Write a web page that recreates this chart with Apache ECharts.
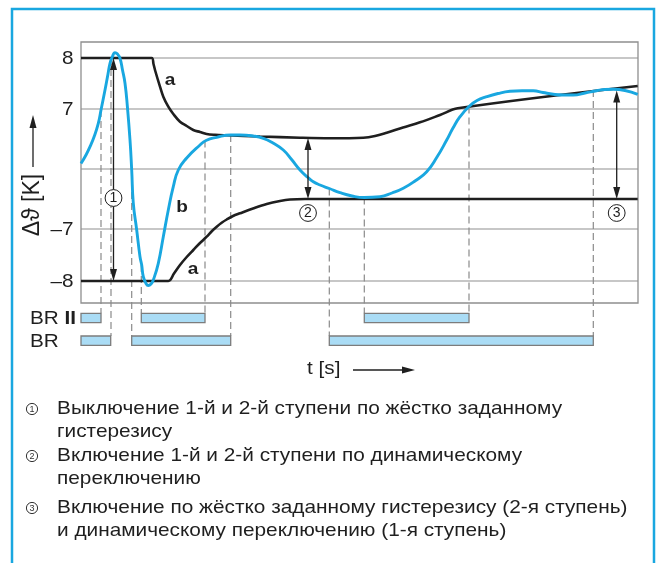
<!DOCTYPE html>
<html>
<head>
<meta charset="utf-8">
<script src="https://cdn.jsdelivr.net/npm/echarts@6/dist/echarts.min.js"></script>
<style>
  html, body { margin: 0; padding: 0; background: #fff; }
  #chart { width: 657px; height: 563px; }
</style>
</head>
<body>
<div id="chart"></div>
<script>
// Schematic units: t runs along the time axis, level is a position on the broken Δϑ scale.

// Curve b – measured temperature difference [t, level]
const curveB = [
  [0, 13.95], [0.5, 14.8], [0.9, 15.63], [1.3, 16.6], [1.73, 17.97], [2.0, 19.3],
  [2.4, 21.3], [2.7, 22.9], [2.9, 23.97], [3.13, 24.6], [3.4, 25.03], [3.65, 24.9],
  [3.9, 24.47], [4.15, 23.3], [4.4, 21.97], [4.65, 19.5], [4.9, 16.3], [5.07, 13.3],
  [5.23, 10.0], [5.57, 7.3], [5.9, 4.63], [6.07, 3.8], [6.23, 2.63], [6.5, 1.95],
  [6.73, 1.75], [7.0, 1.9], [7.23, 2.3], [7.73, 3.97], [8.23, 6.63], [8.73, 9.3],
  [9.23, 11.63], [9.73, 13.3], [10.57, 14.5], [11.9, 15.8], [12.5, 16.25], [13.57, 16.57],
  [14.97, 16.8], [15.9, 16.8], [17.2, 16.7], [18.23, 16.47], [19.2, 16.0], [20.23, 15.3],
  [21.1, 14.3], [21.9, 13.3], [22.7, 12.55], [23.23, 12.13], [23.9, 11.8], [24.83, 11.45],
  [25.9, 11.03], [27.1, 10.7], [28.33, 10.55], [29.9, 10.63], [31.1, 11.0], [32.23, 11.47],
  [33.4, 12.2], [34.57, 13.13], [35.6, 14.6], [36.57, 16.3], [37.2, 17.5], [37.9, 18.63],
  [38.8, 19.65], [39.6, 20.25], [40.57, 20.63], [41.7, 20.95], [42.9, 21.17], [44.1, 21.23],
  [45.23, 21.23], [46.2, 21.05], [47.23, 20.87], [48.2, 20.8], [49.23, 20.8], [50.4, 21.0],
  [51.57, 21.23], [52.4, 21.35], [53.23, 21.37], [54.4, 21.25], [55.67, 20.87]
];

// Curve a – upper switching threshold
const curveAUpper = [
  [0, 24.5], [7.07, 24.5], [7.25, 23.9], [7.4, 23.3], [7.9, 21.63], [8.23, 20.63],
  [8.73, 19.63], [9.23, 18.9], [9.9, 18.13], [10.57, 17.7], [11.23, 17.3], [11.9, 17.1],
  [12.57, 16.9], [13.4, 16.82], [14.57, 16.77], [17.9, 16.65], [21.9, 16.53], [24.9, 16.48],
  [28.23, 16.53], [29.4, 16.7], [30.57, 17.03], [32.2, 17.55], [33.9, 18.07], [35.9, 18.8],
  [37.67, 19.47], [55.67, 21.7]
];

// Curve a – lower switching threshold
const curveALower = [
  [0, 2.2], [8.73, 2.2], [9.3, 2.95], [9.9, 3.8], [10.57, 4.6], [11.23, 5.3],
  [11.9, 6.0], [12.57, 6.63], [13.1, 7.2], [13.57, 7.63], [14.1, 8.05], [14.57, 8.35],
  [15.2, 8.7], [15.9, 8.97], [17.2, 9.45], [18.57, 9.9], [19.9, 10.2], [20.9, 10.35],
  [22.4, 10.4], [55.67, 10.4]
];

// Horizontal reference levels and their tick labels
const levelLines = [24.5, 19.4, 13.4, 7.4, 2.2];
const levelLabels = ['8', '7', '', '–7', '–8'];

// Relay on-periods [start, end]
const brIIPeriods = [[0, 2.0], [6.03, 12.4], [28.33, 38.8]];
const brPeriods = [[0, 2.97], [5.07, 14.97], [24.83, 51.23]];

// Switching instants: [t, level on curve, track index (0 = BR II, 1 = BR)]
const switchPoints = [
  [2.0, 19.3, 0], [3.0, 24.5, 1], [5.07, 13.3, 1], [6.03, 3.8, 0], [12.4, 16.25, 0],
  [14.97, 16.8, 1], [24.83, 11.45, 1], [28.33, 10.55, 0], [38.8, 19.65, 0], [51.23, 21.3, 1]
];

// Hysteresis spans: [t, top level, bottom level]
const hysteresisSpans = [[3.25, 24.5, 2.2], [22.7, 16.5, 10.4], [53.57, 21.25, 10.4]];
const hysteresisNames = ['1', '2', '3'];

const legendLines = [
  'Выключение 1-й и 2-й ступени по жёстко заданному',
  'гистерезису',
  'Включение 1-й и 2-й ступени по динамическому',
  'переключению',
  'Включение по жёстко заданному гистерезису (2-я ступень)',
  'и динамическому переключению (1-я ступень)'
];

// ---- layout ----
const X_MIN = 0, X_MAX = 55.7, Y_MIN = -4.5, Y_MAX = 26.1, FRAME_BOTTOM = 0;
const trackLevel = [-1.5, -3.77];
const BAR_H = 9.4;
const spanLabelLevel = [10.5, 9.0, 9.0];
const FONT = '"Liberation Sans", Arial, sans-serif';
const WIDE = 1.12;          // horizontal stretch of the lettering
const BLUE = '#19a7e0';
const INK = '#1f1f1f';
const GRID_GRAY = '#8f8f8f';

const chart = echarts.init(document.getElementById('chart'), null, { renderer: 'canvas' });

function circledLabel(cx, cy, r, digit, size, color) {
  return [
    { type: 'circle', shape: { cx: cx, cy: cy, r: r }, style: { fill: '#fff', stroke: color, lineWidth: 1 } },
    { type: 'text', x: cx, y: cy + 0.5, style: { text: digit, align: 'center', verticalAlign: 'middle',
        fontSize: size, fontFamily: FONT, fill: color } }
  ];
}

function label(x, y, text, opts) {
  opts = opts || {};
  return { type: 'text', x: x, y: y, scaleX: opts.scaleX || WIDE, rotation: opts.rotation || 0,
    style: { text: text, fontSize: opts.size || 18.5, fontWeight: opts.weight || 'normal', fontFamily: FONT,
      fill: INK, align: opts.align || 'left', verticalAlign: 'middle', rich: opts.rich } };
}

const legendGraphics = [];
const legendRows = [409, 432, 456, 479, 508, 531];
legendLines.forEach(function (line, i) {
  legendGraphics.push(label(57, legendRows[i], line, { size: 18.5, scaleX: 1.125 }));
});
[0, 2, 4].forEach(function (row, k) {
  circledLabel(32, legendRows[row], 5.6, hysteresisNames[k], 9, '#333').forEach(function (el) {
    legendGraphics.push(el);
  });
});

const option = {
  animation: false,
  backgroundColor: '#fff',
  grid: { left: 81, top: 42, width: 557, height: 306, show: false },
  xAxis: { type: 'value', min: X_MIN, max: X_MAX, show: false },
  yAxis: { type: 'value', min: Y_MIN, max: Y_MAX, show: false },
  graphic: [
    { type: 'rect', shape: { x: 12, y: 9, width: 642, height: 620 },
      style: { fill: 'none', stroke: BLUE, lineWidth: 2.5 }, z: 100 },
    // vertical axis title with arrow
    label(33, 205, 'Δϑ [K]', { size: 23, scaleX: 1, rotation: Math.PI / 2, align: 'center' }),
    { type: 'line', shape: { x1: 33, y1: 167, x2: 33, y2: 126 }, style: { stroke: INK, lineWidth: 1.3 } },
    { type: 'polygon', shape: { points: [[33, 115], [29.5, 128], [36.5, 128]] }, style: { fill: INK } },
    // time axis title with arrow
    label(307, 369, 't [s]', { size: 18.5 }),
    { type: 'line', shape: { x1: 353, y1: 370, x2: 404, y2: 370 }, style: { stroke: INK, lineWidth: 1.3 } },
    { type: 'polygon', shape: { points: [[415, 370], [402, 366.5], [402, 373.5]] }, style: { fill: INK } },
    // relay track names
    label(30, 319, 'BR {b|II}', { rich: { b: { fontSize: 18.5, fontWeight: 'bold', fontFamily: FONT, fill: INK } } }),
    label(30, 342, 'BR'),
    // curve names
    label(170, 80, 'a', { size: 17, weight: 'bold', align: 'center' }),
    label(182, 207, 'b', { size: 17, weight: 'bold', align: 'center' }),
    label(193, 269, 'a', { size: 17, weight: 'bold', align: 'center' })
  ].concat(legendGraphics),
  series: [
    // frame and reference levels
    {
      type: 'custom', z: 1, silent: true,
      data: levelLines.map(function (v, i) { return [v, i]; }),
      encode: { x: -1, y: 0 },
      renderItem: function (params, api) {
        const v = api.value(0), i = api.value(1);
        const p0 = api.coord([X_MIN, v]), p1 = api.coord([X_MAX, v]);
        const children = [{ type: 'line', shape: { x1: p0[0], y1: p0[1], x2: p1[0], y2: p1[1] },
          style: { stroke: GRID_GRAY, lineWidth: 1.2 } }];
        if (levelLabels[i]) {
          children.push({ type: 'text', x: p0[0] - 7.5, y: p0[1] + 1, scaleX: WIDE,
            style: { text: levelLabels[i], align: 'right', verticalAlign: 'middle',
              fontSize: 18.5, fontFamily: FONT, fill: INK } });
        }
        if (i === 0) {
          const a = api.coord([X_MIN, Y_MAX]), b = api.coord([X_MAX, FRAME_BOTTOM]);
          children.push({ type: 'rect', shape: { x: a[0], y: a[1], width: b[0] - a[0], height: b[1] - a[1] },
            style: { fill: 'none', stroke: GRID_GRAY, lineWidth: 1.3 } });
        }
        return { type: 'group', children: children };
      }
    },
    // switching instants: dashed drop lines to the relay tracks
    {
      type: 'custom', z: 2, silent: true,
      data: switchPoints,
      renderItem: function (params, api) {
        const t = api.value(0), lv = api.value(1), tr = api.value(2);
        const top = api.coord([t, lv]);
        const bottom = api.coord([t, trackLevel[tr]]);
        return { type: 'line', shape: { x1: top[0], y1: top[1], x2: bottom[0], y2: bottom[1] - BAR_H / 2 },
          style: { stroke: '#8a8a8a', lineWidth: 1.2, lineDash: [7, 4] } };
      }
    },
    // relay on-periods
    {
      type: 'custom', z: 3, silent: true,
      data: brIIPeriods.map(function (p) { return [p[0], p[1], 0]; })
        .concat(brPeriods.map(function (p) { return [p[0], p[1], 1]; })),
      renderItem: function (params, api) {
        const tr = api.value(2);
        const a = api.coord([api.value(0), trackLevel[tr]]);
        const b = api.coord([api.value(1), trackLevel[tr]]);
        return { type: 'rect', shape: { x: a[0], y: a[1] - BAR_H / 2, width: b[0] - a[0], height: BAR_H },
          style: { fill: '#aadcf5', stroke: '#7c7c7c', lineWidth: 1.3 } };
      }
    },
    {
      name: 'a upper', type: 'line', z: 4, data: curveAUpper, showSymbol: false, smooth: 0.35,
      lineStyle: { color: INK, width: 2.6 }, silent: true
    },
    {
      name: 'a lower', type: 'line', z: 4, data: curveALower, showSymbol: false, smooth: 0.35,
      lineStyle: { color: INK, width: 2.6 }, silent: true
    },
    {
      name: 'b', type: 'line', z: 5, data: curveB, showSymbol: false, smooth: 0.5,
      lineStyle: { color: BLUE, width: 2.9 }, silent: true
    },
    // hysteresis spans with double arrows and circled numbers
    {
      type: 'custom', z: 6, silent: true,
      data: hysteresisSpans.map(function (s, i) { return [s[0], s[1], s[2], i]; }),
      renderItem: function (params, api) {
        const t = api.value(0), i = api.value(3);
        const top = api.coord([t, api.value(1)]);
        const bot = api.coord([t, api.value(2)]);
        const x = top[0], hw = 3.5, hl = 12;
        const children = [
          { type: 'line', shape: { x1: x, y1: top[1] + hl - 1, x2: x, y2: bot[1] - hl + 1 },
            style: { stroke: INK, lineWidth: 1.3 } },
          { type: 'polygon', shape: { points: [[x, top[1]], [x - hw, top[1] + hl], [x + hw, top[1] + hl]] },
            style: { fill: INK } },
          { type: 'polygon', shape: { points: [[x, bot[1]], [x - hw, bot[1] - hl], [x + hw, bot[1] - hl]] },
            style: { fill: INK } }
        ];
        const lp = api.coord([t, spanLabelLevel[i]]);
        circledLabel(x, lp[1], 8.4, hysteresisNames[i], 14, INK).forEach(function (el) { children.push(el); });
        return { type: 'group', children: children };
      }
    }
  ]
};

chart.setOption(option);
</script>
</body>
</html>
